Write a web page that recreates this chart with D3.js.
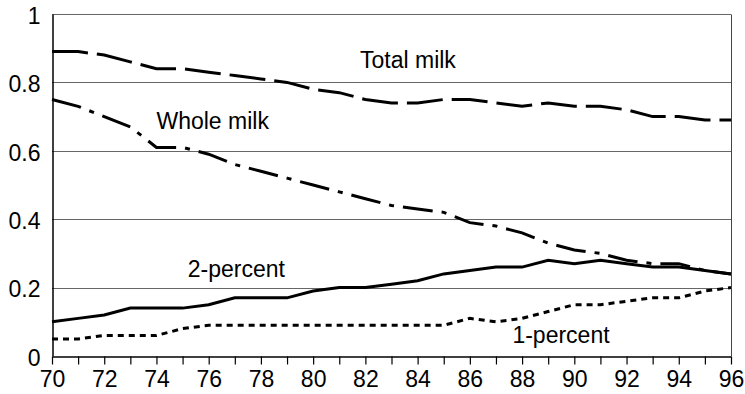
<!DOCTYPE html>
<html lang="en">
<head>
  <meta charset="UTF-8">
  <title>Milk consumption shares</title>
  <script src="https://d3js.org/d3.v7.min.js"></script>
  <style>
    body {
      margin: 0;
      padding: 0;
      background: #fff;
      font-family: "Liberation Sans", Arial, sans-serif;
    }
    svg text {
      font-family: "Liberation Sans", Arial, sans-serif;
      fill: #000;
    }
  </style>
</head>
<body>
  <div id="chart"></div>

  <script>
    // values
    const years = d3.range(70, 97);
    const totalMilk = [0.89, 0.89, 0.88, 0.86, 0.84, 0.84, 0.83, 0.82, 0.81, 0.80, 0.78, 0.77, 0.75, 0.74,
      0.74, 0.75, 0.75, 0.74, 0.73, 0.74, 0.73, 0.73, 0.72, 0.70, 0.70, 0.69, 0.69];
    const wholeMilk = [0.75, 0.73, 0.70, 0.67, 0.61, 0.61, 0.59, 0.56, 0.54, 0.52, 0.50, 0.48, 0.46, 0.44,
      0.43, 0.42, 0.39, 0.38, 0.36, 0.33, 0.31, 0.30, 0.28, 0.27, 0.27, 0.25, 0.24];
    const twoPercent = [0.10, 0.11, 0.12, 0.14, 0.14, 0.14, 0.15, 0.17, 0.17, 0.17, 0.19, 0.20, 0.20, 0.21,
      0.22, 0.24, 0.25, 0.26, 0.26, 0.28, 0.27, 0.28, 0.27, 0.26, 0.26, 0.25, 0.24];
    const onePercent = [0.05, 0.05, 0.06, 0.06, 0.06, 0.08, 0.09, 0.09, 0.09, 0.09, 0.09, 0.09, 0.09, 0.09,
      0.09, 0.09, 0.11, 0.10, 0.11, 0.13, 0.15, 0.15, 0.16, 0.17, 0.17, 0.19, 0.20];
    const yTicks = [0, 0.2, 0.4, 0.6, 0.8, 1];
    const xLabelTicks = d3.range(70, 97, 2);

    const width = 745, height = 394;
    const margin = {top: 14, right: 14, bottom: 38, left: 52};

    const svg = d3.select("#chart").append("svg")
      .attr("width", width)
      .attr("height", height);

    const x = d3.scaleLinear()
      .domain([70, 96])
      .range([margin.left, width - margin.right]);

    const y = d3.scaleLinear()
      .domain([0, 1])
      .range([height - margin.bottom, margin.top]);

    // gridlines (including top edge at 1)
    svg.append("g")
      .selectAll("line")
      .data(yTicks.filter(d => d > 0))
      .join("line")
      .attr("x1", x(70))
      .attr("x2", x(96))
      .attr("y1", d => Math.round(y(d)) + 0.5)
      .attr("y2", d => Math.round(y(d)) + 0.5)
      .attr("stroke", "#666")
      .attr("stroke-width", 1);

    // right border
    svg.append("line")
      .attr("x1", Math.round(x(96)) + 0.5)
      .attr("x2", Math.round(x(96)) + 0.5)
      .attr("y1", Math.round(y(1)) + 0.5)
      .attr("y2", y(0))
      .attr("stroke", "#444");

    // y axis
    const yAxis = svg.append("g")
      .attr("transform", `translate(${Math.round(x(70)) + 0.5},0)`)
      .call(d3.axisLeft(y).tickValues(yTicks).tickSize(0).tickPadding(12)
        .tickFormat(d => d === 0 || d === 1 ? d3.format("d")(d) : d3.format(".1f")(d)));
    yAxis.select(".domain").attr("stroke", "#000").attr("stroke-width", 1.5);
    yAxis.selectAll("text").style("font-size", "23px").attr("dy", "0.4em");

    // x axis
    const xAxis = svg.append("g")
      .attr("transform", `translate(0,${Math.round(y(0)) + 0.5})`)
      .call(d3.axisBottom(x).tickValues(years).tickSize(8).tickSizeOuter(0).tickPadding(6)
        .tickFormat(d => xLabelTicks.includes(d) ? d : ""));
    xAxis.select(".domain").attr("stroke", "#000").attr("stroke-width", 1.5);
    xAxis.selectAll(".tick line").attr("stroke", "#000").attr("stroke-width", 1.2);
    xAxis.selectAll("text").style("font-size", "23px");

    const series = [
      {name: "Total milk", values: totalMilk, dash: "36,9"},
      {name: "Whole milk", values: wholeMilk, dash: "30,9,5,9"},
      {name: "2-percent", values: twoPercent, dash: null},
      {name: "1-percent", values: onePercent, dash: "6,5"}
    ];

    const line = d3.line()
      .x((d, i) => x(years[i]))
      .y(d => y(d));

    svg.append("g")
      .selectAll("path")
      .data(series)
      .join("path")
      .attr("d", d => line(d.values))
      .attr("fill", "none")
      .attr("stroke", "#000")
      .attr("stroke-width", 3)
      .attr("stroke-dasharray", d => d.dash);

    // in-chart labels, placed in data units
    const labels = [
      {text: "Total milk", year: 83.63, value: 0.843, anchor: "middle"},
      {text: "Whole milk", year: 74.0, value: 0.665, anchor: "start"},
      {text: "2-percent", year: 75.2, value: 0.23, anchor: "start"},
      {text: "1-percent", year: 87.63, value: 0.037, anchor: "start"}
    ];

    svg.append("g")
      .selectAll("text")
      .data(labels)
      .join("text")
      .attr("x", d => x(d.year))
      .attr("y", d => y(d.value))
      .attr("text-anchor", d => d.anchor)
      .style("font-size", "23px")
      .text(d => d.text);
  </script>
</body>
</html>
